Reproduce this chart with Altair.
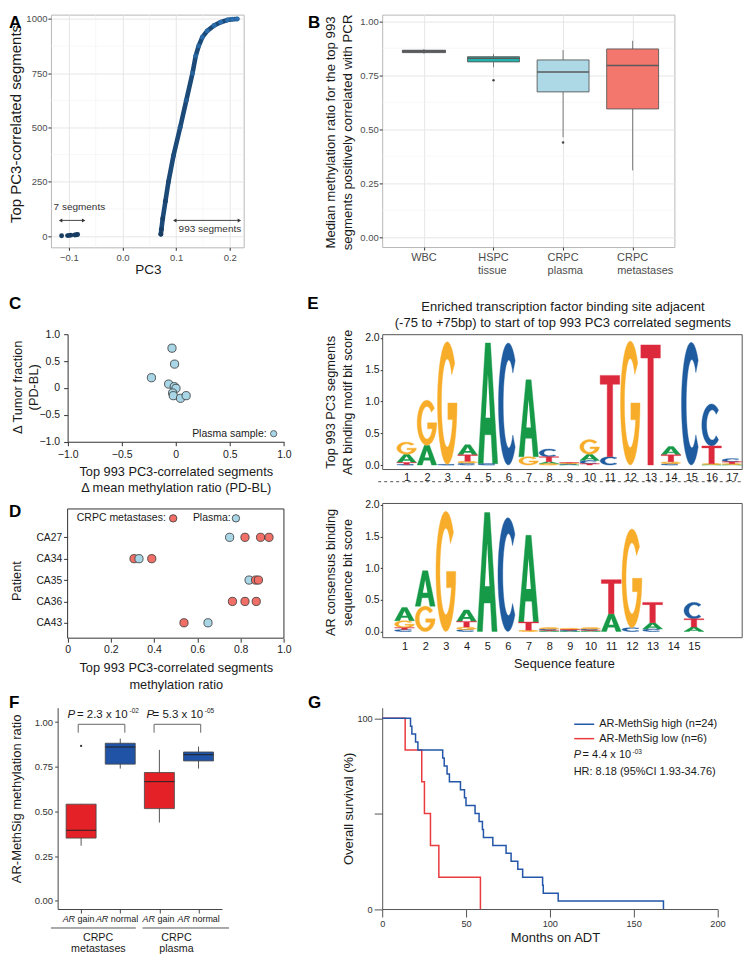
import altair as alt
import numpy as np
import pandas as pd

alt.data_transformers.disable_max_rows()

FONT = "Liberation Sans"
INK = "#1a1a1a"
GREY_TXT = "#4d4d4d"

# ===================== DATA =====================
# Panel A
a_neg_pc3 = [-0.1136, -0.1025, -0.0994, -0.0963, -0.0888, -0.0857, -0.0838]
a_neg_rank = [1, 2, 3, 4, 5, 6, 7]
a_pc3 = [0.0715, 0.0725, 0.0750, 0.0800, 0.0857, 0.0950, 0.1075, 0.1190, 0.1305,
         0.1366, 0.1420, 0.1490, 0.1580, 0.1710, 0.1830, 0.1957, 0.2050, 0.2140]
a_rank = [8, 30, 80, 160, 250, 370, 500, 625, 750, 830, 875, 916, 945, 970, 985, 995, 999, 1000]
a_x_ticks = [-0.1, 0.0, 0.1, 0.2]
a_y_ticks = [0, 250, 500, 750, 1000]
a_x_minor = [-0.05, 0.05, 0.15]
a_y_minor = [125, 375, 625, 875]
a_arrow_from = [-0.1155, 0.0975]
a_arrow_to = [-0.0725, 0.218]
a_arrow_y = [72, 72]

# Panel B
b_line1 = ["WBC", "HSPC", "CRPC", "CRPC"]
b_line2 = ["", "tissue", "plasma", "metastases"]
b_lo = [0.850, 0.787, 0.463, 0.309]
b_q1 = [0.855, 0.812, 0.673, 0.594]
b_med = [0.860, 0.829, 0.765, 0.795]
b_q3 = [0.866, 0.836, 0.821, 0.872]
b_hi = [0.871, 0.849, 0.867, 0.910]
b_out_i = [1, 2]
b_out_v = [0.727, 0.438]
b_y_ticks = [0, 0.25, 0.5, 0.75, 1.0]
b_y_minor = [0.125, 0.375, 0.625, 0.875]

# Panel C
c_dmeth = [-0.035, -0.011, -0.225, -0.066, -0.014, 0.002, -0.029, -0.023, 0.044, 0.096]
c_dtf = [0.740, 0.444, 0.191, 0.073, 0.024, -0.007, -0.093, -0.143, -0.192, -0.143]

# Panel D
d_patients = ["CA27", "CA34", "CA35", "CA36", "CA43"]
d_met_pat = ["CA27", "CA27", "CA27", "CA34", "CA34", "CA35", "CA35", "CA36", "CA36", "CA36", "CA43"]
d_met_val = [0.820, 0.892, 0.931, 0.307, 0.389, 0.869, 0.882, 0.762, 0.820, 0.872, 0.538]
d_pla_pat = ["CA27", "CA34", "CA35", "CA43"]
d_pla_val = [0.749, 0.330, 0.839, 0.649]

# Panel E (bit heights per position, for A, C, G, T)
e1_A = [0.13, 0.31, 0.00, 0.16, 1.90, 0.00, 1.21, 0.03, 0.01, 0.10, 0.00, 0.00, 0.00, 0.13, 0.00, 0.01, 0.01]
e1_C = [0.01, 0.00, 0.01, 0.03, 0.02, 1.92, 0.00, 0.12, 0.01, 0.05, 0.13, 0.00, 0.00, 0.02, 1.93, 0.66, 0.05]
e1_G = [0.19, 0.71, 1.93, 0.03, 0.00, 0.00, 0.13, 0.02, 0.01, 0.23, 0.00, 1.95, 0.00, 0.03, 0.00, 0.01, 0.01]
e1_T = [0.03, 0.00, 0.00, 0.10, 0.00, 0.00, 0.00, 0.08, 0.01, 0.02, 1.28, 0.00, 1.89, 0.11, 0.00, 0.28, 0.03]
e2_A = [0.21, 0.56, 0.00, 0.18, 1.88, 0.00, 1.37, 0.01, 0.01, 0.01, 0.28, 0.00, 0.10, 0.00, 0.07]
e2_C = [0.03, 0.00, 0.00, 0.03, 0.00, 1.80, 0.00, 0.02, 0.01, 0.02, 0.00, 0.06, 0.04, 0.00, 0.26]
e2_G = [0.11, 0.40, 1.90, 0.04, 0.00, 0.00, 0.02, 0.02, 0.02, 0.02, 0.00, 1.56, 0.00, 0.00, 0.00]
e2_T = [0.03, 0.00, 0.00, 0.09, 0.00, 0.00, 0.13, 0.01, 0.01, 0.01, 0.54, 0.00, 0.32, 0.00, 0.13]

# Panel F
f_lo = [0.308, 0.740, 0.438, 0.740]
f_q1 = [0.351, 0.765, 0.516, 0.783]
f_med = [0.395, 0.861, 0.667, 0.818]
f_q3 = [0.541, 0.882, 0.718, 0.833]
f_hi = [0.541, 0.908, 0.845, 0.863]
f_out_i = [0]
f_out_v = [0.867]
f_brk_from = [-0.074, 1.864]
f_brk_to = [1.117, 3.056]
f_brk_top = [0.988, 0.988]
f_brk_leg = [0.941, 0.941]
f_lab_group = ["gain", "normal", "gain", "normal"]

# Panel G (Kaplan-Meier steps)
g_hi_t = [0, 16.9, 17.7, 19.9, 21.3, 36.1, 37.0, 38.7, 40.1, 46.7, 49.1, 50.0, 55.4,
          57.8, 59.8, 60.4, 66.0, 73.9, 76.9, 80.9, 83.8, 95.7, 96.1, 105.0, 167.8]
g_hi_s = [100, 95.8, 91.7, 87.5, 83.3, 79.2, 75.0, 70.8, 66.7, 62.5, 58.3, 54.2, 50.0,
          45.8, 41.7, 37.5, 33.3, 29.2, 25.0, 20.8, 16.7, 12.5, 8.3, 4.2, 0.0]
g_lo_t = [0, 13.7, 23.6, 25.2, 28.8, 33.8, 58.6]
g_lo_s = [100, 83.3, 66.7, 50.0, 33.3, 16.7, 0.0]


# ===================== HELPERS =====================
def one():
    return pd.DataFrame({"d": [0]})


def ptext(text, x, y, size=11.0, align="left", baseline="middle", weight="normal",
          style="normal", color=INK):
    return alt.Chart(pd.DataFrame({"t": [text]})).mark_text(
        align=align, baseline=baseline, fontSize=size, fontWeight=weight,
        fontStyle=style, color=color, font=FONT
    ).encode(x=alt.value(x), y=alt.value(y), text="t:N")


def letter(ch, x, y):
    return ptext(ch, x, y, size=17, baseline="top", weight="bold", color="#000")


def prule(x, x2, y, y2, color="#555", width=1.0, dash=None):
    kw = dict(color=color, strokeWidth=width)
    if dash:
        kw["strokeDash"] = dash
    return alt.Chart(one()).mark_rule(**kw).encode(
        x=alt.value(x), x2=alt.value(x2), y=alt.value(y), y2=alt.value(y2))


def sp(h):
    return alt.Chart(one()).mark_point(opacity=0).properties(width=1, height=h)


def enc_pair(xs, xaxis, ys, yaxis):
    X = lambda f: alt.X(f, scale=xs, axis=xaxis)
    Y = lambda f: alt.Y(f, scale=ys, axis=yaxis)
    return X, Y


TITLE = dict(titleFontWeight="normal", titleColor=INK, titleFont=FONT,
             titleBaseline="alphabetic", titleAlign="center")

# ===================== PANEL A =====================
AW, AH = 193, 233
a_xs = alt.Scale(domain=[-0.1335, 0.226], nice=False, zero=False)
a_ys = alt.Scale(domain=[-52, 1020], nice=False, zero=False)
a_xaxis = alt.Axis(values=a_x_ticks, format=".1f", grid=True, gridColor="#e6e6e6", domain=False,
                   tickColor="#333", tickSize=3, labelFontSize=9.5, labelColor=GREY_TXT,
                   labelPadding=2, labelFlush=False, title="PC3", titleFontSize=13.5,
                   titleX=97, titleY=26, titleAngle=0, **TITLE)
a_yaxis = alt.Axis(values=a_y_ticks, format="d", grid=True, gridColor="#e6e6e6", domain=False,
                   tickColor="#333", tickSize=3, labelFontSize=9.5, labelColor=GREY_TXT,
                   labelPadding=1, labelFlush=False, title="Top PC3-correlated segments",
                   titleFontSize=15, titleX=-30, titleY=109, titleAngle=270, **TITLE)
AX, AY = enc_pair(a_xs, a_xaxis, a_ys, a_yaxis)

a_curve = pd.DataFrame({"pc3": a_pc3, "rank": a_rank})
a_all = pd.DataFrame({"pc3": a_neg_pc3 + a_pc3, "rank": a_neg_rank + a_rank})
a_arr = pd.DataFrame({"x1": a_arrow_from, "x2": a_arrow_to, "y": a_arrow_y})

a_layers = [
    alt.Chart(pd.DataFrame({"pc3": a_x_minor})).mark_rule(color="#f2f2f2", strokeWidth=0.6)
    .encode(x=AX("pc3:Q")),
    alt.Chart(pd.DataFrame({"rank": a_y_minor})).mark_rule(color="#f2f2f2", strokeWidth=0.6)
    .encode(y=AY("rank:Q")),
    alt.Chart(a_curve).mark_line(color="#1c4a78", strokeWidth=4.6, strokeCap="round")
    .encode(x=AX("pc3:Q"), y=AY("rank:Q")),
    alt.Chart(a_all).mark_circle(size=24, opacity=1)
    .encode(x=AX("pc3:Q"), y=AY("rank:Q"),
            color=alt.Color("rank:Q", scale=alt.Scale(domain=[0, 1000], range=["#173c61", "#2c6fae"]),
                            legend=None)),
    alt.Chart(a_arr).mark_rule(color="#333", strokeWidth=0.9)
    .encode(x=AX("x1:Q"), x2="x2:Q", y=AY("y:Q")),
    alt.Chart(a_arr).mark_point(shape="triangle-left", filled=True, size=16, color="#333", opacity=1)
    .encode(x=AX("x1:Q"), y=AY("y:Q")),
    alt.Chart(a_arr).mark_point(shape="triangle-right", filled=True, size=16, color="#333", opacity=1)
    .encode(x=AX("x2:Q"), y=AY("y:Q")),
    alt.Chart(pd.DataFrame({"x": [-0.1285], "y": [133], "t": ["7 segments"]}))
    .mark_text(align="left", baseline="middle", fontSize=10, color="#333", font=FONT)
    .encode(x=AX("x:Q"), y=AY("y:Q"), text="t:N"),
    alt.Chart(pd.DataFrame({"x": [0.163], "y": [31], "t": ["993 segments"]}))
    .mark_text(align="center", baseline="middle", fontSize=10, color="#333", font=FONT)
    .encode(x=AX("x:Q"), y=AY("y:Q"), text="t:N"),
    letter("A", -42, 0),
]
panel_a = alt.layer(*a_layers).properties(width=AW, height=AH,
                                          view=alt.ViewBackground(stroke="#b8b8b8", strokeWidth=1))

# ===================== PANEL B =====================
BW, BH = 292.6, 232.7
b_xs = alt.Scale(domain=[-0.6, 3.6], nice=False, zero=False)
b_ys = alt.Scale(domain=[-0.046, 1.031], nice=False, zero=False)
b_halfwidth = [0.31, 0.373, 0.373, 0.373]
b_fill = ["#22344f", "#22b3ad", "#add8e6", "#f4776e"]
b_df = pd.DataFrame({"i": [0, 1, 2, 3], "lo": b_lo, "q1": b_q1, "med": b_med, "q3": b_q3, "hi": b_hi,
                     "fill": b_fill, "l1": b_line1, "l2": b_line2})
b_df["xl"] = b_df["i"] - np.array(b_halfwidth)
b_df["xr"] = b_df["i"] + np.array(b_halfwidth)

b_xaxis = alt.Axis(values=[0, 1, 2, 3], labels=False, grid=True, gridColor="#e6e6e6", domain=False,
                   tickColor="#333", tickSize=3, title=None)
b_yaxis = alt.Axis(values=b_y_ticks, format=".2f", grid=True, gridColor="#e6e6e6", domain=False,
                   tickColor="#333", tickSize=3, labelFontSize=9.5, labelColor=GREY_TXT,
                   labelPadding=1, labelFlush=False,
                   title=["Median methylation ratio for the top 993",
                          "segments positively correlated with PCR"],
                   titleFontSize=13.2, titleLineHeight=16.7, titleX=-47.6, titleY=117.5,
                   titleAngle=270, **TITLE)
BX, BY = enc_pair(b_xs, b_xaxis, b_ys, b_yaxis)
b_layers = [
    alt.Chart(pd.DataFrame({"w": b_y_minor})).mark_rule(color="#f2f2f2", strokeWidth=0.6)
    .encode(y=BY("w:Q")),
    alt.Chart(b_df).mark_rule(color="#7a7a7a", strokeWidth=1)
    .encode(x=BX("i:Q"), y=BY("lo:Q"), y2="hi:Q"),
    alt.Chart(b_df).mark_rect(stroke="#5a5a5a", strokeWidth=0.9)
    .encode(x=BX("xl:Q"), x2="xr:Q", y=BY("q1:Q"), y2="q3:Q", fill=alt.Fill("fill:N", scale=None)),
    alt.Chart(b_df).mark_rule(color="#5a5a5a", strokeWidth=1.4)
    .encode(x=BX("xl:Q"), x2="xr:Q", y=BY("med:Q")),
    alt.Chart(pd.DataFrame({"i": b_out_i, "v": b_out_v})).mark_circle(size=6, color="#444", opacity=1)
    .encode(x=BX("i:Q"), y=BY("v:Q")),
    alt.Chart(b_df).mark_text(align="center", baseline="middle", fontSize=11, color=GREY_TXT, font=FONT)
    .encode(x=BX("i:Q"), y=alt.value(BH + 11.3), text="l1:N"),
    alt.Chart(b_df).mark_text(align="left", baseline="middle", fontSize=11, color=GREY_TXT, font=FONT, dx=-15.5)
    .encode(x=BX("i:Q"), y=alt.value(BH + 23.8), text="l2:N"),
    letter("B", -74.3, 0),
]
panel_b = alt.layer(*b_layers).properties(width=BW, height=BH,
                                          view=alt.ViewBackground(stroke="#b8b8b8", strokeWidth=1))

# ===================== PANEL C =====================
CX0 = 16.7
CW, CH = 216.6, 107.7
RED_PT, BLUE_PT = "#f07068", "#a9d6e6"
c_xs = alt.Scale(domain=[-1, 1], nice=False, zero=False, range=[CX0, CX0 + CW])
c_ys = alt.Scale(domain=[-1, 1], nice=False, zero=False)
zero_lbl = "datum.value == 0 ? '0' : format(datum.value, '.1f')"
c_xaxis = alt.Axis(values=[-1, -0.5, 0, 0.5, 1], labelExpr=zero_lbl, grid=False, domainColor="#333",
                   tickColor="#333", tickSize=4, labelFontSize=10.5, labelColor=INK, labelPadding=4,
                   labelFlush=False,
                   title=["Top 993 PC3-correlated segments", "Δ mean methylation ratio (PD-BL)"],
                   titleFontSize=12.8, titleLineHeight=16.7, titleX=CX0 + 108.3, titleY=33.5,
                   titleAngle=0, **TITLE)
c_yaxis = alt.Axis(values=[-1, -0.5, 0, 0.5, 1], labelExpr=zero_lbl, grid=False, domainColor="#333",
                   tickColor="#333", tickSize=4, labelFontSize=10.5, labelColor=INK, labelPadding=4,
                   labelFlush=False, offset=-CX0, title=["Δ Tumor fraction", "(PD-BL)"],
                   titleFontSize=12.8, titleLineHeight=16, titleX=-46, titleY=52.7, titleAngle=270, **TITLE)
CXe, CYe = enc_pair(c_xs, c_xaxis, c_ys, c_yaxis)
c_df = pd.DataFrame({"x": c_dmeth, "y": c_dtf})
c_layers = [
    alt.Chart(c_df).mark_circle(size=68, color=BLUE_PT, opacity=1, stroke="#333", strokeWidth=0.8)
    .encode(x=CXe("x:Q"), y=CYe("y:Q")),
    alt.Chart(pd.DataFrame({"x": [0.84], "y": [-0.85], "t": ["Plasma sample:"]}))
    .mark_text(align="right", baseline="middle", fontSize=10.5, color=INK, font=FONT)
    .encode(x=CXe("x:Q"), y=CYe("y:Q"), text="t:N"),
    alt.Chart(pd.DataFrame({"x": [0.905], "y": [-0.85]}))
    .mark_circle(size=40, color=BLUE_PT, opacity=1, stroke="#333", strokeWidth=0.7)
    .encode(x=CXe("x:Q"), y=CYe("y:Q")),
    letter("C", -42, -37.9),
]
panel_c = alt.layer(*c_layers).properties(width=CX0 + CW, height=CH)

# ===================== PANEL D =====================
DX0, DY0 = 16.7, 6.0
DW, DH = 216.6, 129.4
d_xs = alt.Scale(domain=[0, 1], nice=False, zero=False, range=[DX0, DX0 + DW])
d_ys = alt.Scale(domain=[-0.327, 5.72], nice=False, zero=False, range=[DY0, DY0 + DH])
d_rows = []
for p, v in zip(d_met_pat, d_met_val):
    d_rows.append({"row": d_patients.index(p) + 1, "v": v, "kind": "met"})
for p, v in zip(d_pla_pat, d_pla_val):
    d_rows.append({"row": d_patients.index(p) + 1, "v": v, "kind": "pla"})
d_df = pd.DataFrame(d_rows).sort_values(["row", "v"]).reset_index(drop=True)
d_lbl = "[" + ",".join(["''"] + ["'%s'" % p for p in d_patients]) + "][datum.value]"
d_xaxis = alt.Axis(values=[0, 0.2, 0.4, 0.6, 0.8, 1.0], labelExpr=zero_lbl, grid=False, domain=False,
                   tickColor="#333", tickSize=4, labelFontSize=10.5, labelColor=INK, labelPadding=2,
                   labelFlush=False, title=["Top 993 PC3-correlated segments", "methylation ratio"],
                   titleFontSize=12.8, titleLineHeight=16.6, titleX=DX0 + 108.3, titleY=33.3,
                   titleAngle=0, **TITLE)
d_yaxis = alt.Axis(values=[1, 2, 3, 4, 5], labelExpr=d_lbl, grid=False, domain=False, tickColor="#333",
                   tickSize=4, labelFontSize=10.3, labelColor=INK, labelPadding=2, labelFlush=False,
                   offset=-DX0, title="Patient", titleFontSize=12.8, titleX=-46.7, titleY=DY0 + 71.7,
                   titleAngle=270, **TITLE)
DXe, DYe = enc_pair(d_xs, d_xaxis, d_ys, d_yaxis)
d_color = alt.Scale(domain=["met", "pla"], range=[RED_PT, BLUE_PT])
d_leg = pd.DataFrame({"x": [0.454, 0.754], "cx": [0.488, 0.778], "y": [0.112, 0.112],
                      "t": ["CRPC metastases:", "Plasma:"], "kind": ["met", "pla"]})
d_layers = [
    alt.Chart(d_df).mark_circle(size=68, opacity=1, stroke="#333", strokeWidth=0.8)
    .encode(x=DXe("v:Q"), y=DYe("row:Q"), color=alt.Color("kind:N", scale=d_color, legend=None)),
    alt.Chart(d_leg).mark_text(align="right", baseline="middle", fontSize=10.5, color=INK, font=FONT)
    .encode(x=DXe("x:Q"), y=DYe("y:Q"), text="t:N"),
    alt.Chart(d_leg).mark_circle(size=55, opacity=1, stroke="#333", strokeWidth=0.8)
    .encode(x=DXe("cx:Q"), y=DYe("y:Q"), color=alt.Color("kind:N", scale=d_color, legend=None)),
    alt.Chart(one()).mark_rect(fillOpacity=0, stroke="#333", strokeWidth=1)
    .encode(x=alt.value(DX0), x2=alt.value(DX0 + DW), y=alt.value(DY0), y2=alt.value(DY0 + DH)),
    letter("D", -42, 1.4),
]
panel_d = alt.layer(*d_layers).properties(width=DX0 + DW, height=DY0 + DH)

# ===================== PANEL E =====================
def ell(cx, cy, rx, ry, a0, a1, n):
    ang = np.radians(np.linspace(a0, a1, n))
    return list(zip(cx + rx * np.cos(ang), cy + ry * np.sin(ang)))


GLYPHS = {
    "A": [("fill", [(0, 0), (0.37, 1), (0.63, 1), (1, 0), (0.74, 0), (0.665, 0.24), (0.335, 0.24), (0.26, 0)]),
          ("hole", [(0.385, 0.38), (0.5, 0.74), (0.615, 0.38)])],
    "T": [("fill", [(0, 1), (1, 1), (1, 0.89), (0.64, 0.89), (0.64, 0), (0.36, 0), (0.36, 0.89), (0, 0.89)])],
    "C": [("fill", ell(0.5, 0.5, 0.5, 0.5, 45, 315, 30) + ell(0.53, 0.5, 0.29, 0.36, 315, 45, 30))],
    "G": [("fill", ell(0.5, 0.5, 0.5, 0.5, 40, 360, 32) + [(0.53, 0.5), (0.53, 0.365)]
           + ell(0.5, 0.5, 0.3, 0.36, 338, 40, 30))],
}
LCOL = {"A": "#179a48", "C": "#1f5c9f", "G": "#f8ad2a", "T": "#dc2a3c"}


def logo_df(hA, hC, hG, hT):
    heights = {"A": hA, "C": hC, "G": hG, "T": hT}
    rows = []
    for p in range(len(hA)):
        col = sorted([(heights[L][p], L) for L in "ACGT" if heights[L][p] > 0.004])
        base = 0.0
        for h, L in col:
            for k, (kind, poly) in enumerate(GLYPHS[L]):
                gid = "%d-%s-%d" % (p, L, k)
                for j, (gx, gy) in enumerate(poly):
                    rows.append({"gid": gid, "letter": L, "kind": kind, "pi": j,
                                 "x": p + 1 - 0.48 + 0.96 * gx, "y": base + h * gy})
            base += h
    return pd.DataFrame(rows)


def logo_layers(df, xs, ys, xaxis, yaxis):
    X, Y = enc_pair(xs, xaxis, ys, yaxis)
    layers = []
    for L in "ACGT":
        layers.append(
            alt.Chart(df).transform_filter("datum.letter == '%s' && datum.kind == 'fill'" % L)
            .mark_line(interpolate="linear-closed", fill=LCOL[L], stroke=LCOL[L], strokeWidth=0.4)
            .encode(x=X("x:Q"), y=Y("y:Q"), detail="gid:N", order="pi:Q"))
    layers.append(
        alt.Chart(df).transform_filter("datum.kind == 'hole'")
        .mark_line(interpolate="linear-closed", fill="white", stroke="white", strokeWidth=0)
        .encode(x=X("x:Q"), y=Y("y:Q"), detail="gid:N", order="pi:Q"))
    return layers


EW, EH1, EH2 = 360, 135, 134.4
e1_xs = alt.Scale(domain=[-0.2, 17.48], nice=False, zero=False)
e1_ys = alt.Scale(domain=[-0.063, 2.058], nice=False, zero=False)
e2_xs = alt.Scale(domain=[-0.08, 17.31], nice=False, zero=False)
e2_ys = alt.Scale(domain=[-0.09, 2.032], nice=False, zero=False)
e_y_ticks = [0, 0.5, 1.0, 1.5, 2.0]
e1_xaxis = alt.Axis(values=list(range(1, 18)), format="d", grid=False, domain=False, ticks=False,
                    labelFontSize=11, labelColor=INK, labelPadding=2.5, labelFlush=False, title=None)
e1_yaxis = alt.Axis(values=e_y_ticks, format=".1f", grid=False, domain=False, tickColor="#333", tickSize=2,
                    labelFontSize=10.5, labelColor=INK, labelPadding=1, labelFlush=False,
                    title=["Top 993 PC3 segments", "AR binding motif bit score"], titleFontSize=12.8,
                    titleLineHeight=16.5, titleX=-47.5, titleY=67.7, titleAngle=270, **TITLE)
e2_xaxis = alt.Axis(values=list(range(1, 16)), format="d", grid=False, domain=False, ticks=False,
                    labelFontSize=11, labelColor=INK, labelPadding=3.5, labelFlush=False,
                    title="Sequence feature", titleFontSize=12.8, titleX=182, titleY=30.3, titleAngle=0, **TITLE)
e2_yaxis = alt.Axis(values=e_y_ticks, format=".1f", grid=False, domain=False, tickColor="#333", tickSize=2,
                    labelFontSize=10.5, labelColor=INK, labelPadding=1, labelFlush=False,
                    title=["AR consensus binding", "sequence bit score"], titleFontSize=12.8,
                    titleLineHeight=16.5, titleX=-47.5, titleY=69, titleAngle=270, **TITLE)

e1_layers = logo_layers(logo_df(e1_A, e1_C, e1_G, e1_T), e1_xs, e1_ys, e1_xaxis, e1_yaxis) + [
    ptext("Enriched transcription factor binding site adjacent", 181, -27.3, size=13, align="center"),
    ptext("(-75 to +75bp) to start of  top 993 PC3 correlated segments", 181, -11.6, size=13, align="center"),
    prule(-4, EW, EH1 + 12.7, EH1 + 12.7, color="#555", width=1, dash=[3, 3]),
    letter("E", -75, -37.9),
]
panel_e1 = alt.layer(*e1_layers).properties(width=EW, height=EH1,
                                            view=alt.ViewBackground(stroke="#555", strokeWidth=1))
e2_layers = logo_layers(logo_df(e2_A, e2_C, e2_G, e2_T), e2_xs, e2_ys, e2_xaxis, e2_yaxis)
panel_e2 = alt.layer(*e2_layers).properties(width=EW, height=EH2,
                                            view=alt.ViewBackground(stroke="#555", strokeWidth=1))

# ===================== PANEL F =====================
FX0 = 6.7
FW, FH = 164.6, 201.6
f_xs = alt.Scale(domain=[-0.6, 3.6], nice=False, zero=False, range=[FX0, FX0 + FW])
f_ys = alt.Scale(domain=[-0.046, 1.081], nice=False, zero=False)
f_fill = ["#e52128", "#2053a5", "#e52128", "#2053a5"]
f_halfwidth = 0.383
f_label_dx = [-18.5, -24.4, -16.9, -21.1]   # left edge of each "AR ..." label relative to its box
f_df = pd.DataFrame({"i": [0, 1, 2, 3], "lo": f_lo, "q1": f_q1, "med": f_med, "q3": f_q3, "hi": f_hi,
                     "fill": f_fill})
f_df["xl"] = f_df["i"] - f_halfwidth
f_df["xr"] = f_df["i"] + f_halfwidth
f_brk = pd.DataFrame({"x1": f_brk_from, "x2": f_brk_to, "top": f_brk_top, "leg": f_brk_leg})
f_xaxis = alt.Axis(values=[0, 1, 2, 3], labels=False, grid=False, domainColor="#444", tickColor="#444",
                   tickSize=4, title=None)
f_yaxis = alt.Axis(values=[0, 0.25, 0.5, 0.75, 1.0], format=".2f", grid=False, domainColor="#444",
                   tickColor="#444", tickSize=3, labelFontSize=9.5, labelColor="#333", labelPadding=2,
                   labelFlush=False, offset=-FX0, title="AR-MethSig methylation ratio", titleFontSize=13,
                   titleX=-36.7, titleY=90.8, titleAngle=270, **TITLE)
FXe, FYe = enc_pair(f_xs, f_xaxis, f_ys, f_yaxis)


def ftext(cat, text, dx, style="normal"):
    return alt.Chart(pd.DataFrame({"i": [cat], "t": [text]})).mark_text(
        align="left", baseline="middle", fontSize=9, color=INK, font=FONT, fontStyle=style, dx=dx
    ).encode(x=FXe("i:Q"), y=alt.value(FH + 10), text="t:N")


f_label_layers = []
for k in range(4):
    f_label_layers.append(ftext(k, "AR", f_label_dx[k], "italic"))
    f_label_layers.append(ftext(k, f_lab_group[k], f_label_dx[k] + 15.0))

f_layers = [
    alt.Chart(f_df).mark_rule(color="#555", strokeWidth=1)
    .encode(x=FXe("i:Q"), y=FYe("lo:Q"), y2="hi:Q"),
    alt.Chart(f_df).mark_rect(stroke="#444", strokeWidth=0.8)
    .encode(x=FXe("xl:Q"), x2="xr:Q", y=FYe("q1:Q"), y2="q3:Q", fill=alt.Fill("fill:N", scale=None)),
    alt.Chart(f_df).mark_rule(color="#222", strokeWidth=1)
    .encode(x=FXe("xl:Q"), x2="xr:Q", y=FYe("med:Q")),
    alt.Chart(pd.DataFrame({"i": f_out_i, "v": f_out_v})).mark_circle(size=5, color="#333", opacity=1)
    .encode(x=FXe("i:Q"), y=FYe("v:Q")),
    alt.Chart(f_brk).mark_rule(color="#666", strokeWidth=1).encode(x=FXe("x1:Q"), x2="x2:Q", y=FYe("top:Q")),
    alt.Chart(f_brk).mark_rule(color="#666", strokeWidth=1).encode(x=FXe("x1:Q"), y=FYe("leg:Q"), y2="top:Q"),
    alt.Chart(f_brk).mark_rule(color="#666", strokeWidth=1).encode(x=FXe("x2:Q"), y=FYe("leg:Q"), y2="top:Q"),
] + f_label_layers + [
    prule(FX0 - 6.7, FX0 + 78.3, FH + 19, FH + 19, color="#555", width=1),
    prule(FX0 + 85, FX0 + 171.6, FH + 19, FH + 19, color="#555", width=1),
    ptext("CRPC", FX0 + 40.5, FH + 29.5, size=10.7, align="center"),
    ptext("metastases", FX0 + 40.8, FH + 40.5, size=10.7, align="center"),
    ptext("CRPC", FX0 + 119, FH + 29.5, size=10.7, align="center"),
    ptext("plasma", FX0 + 119, FH + 40.5, size=10.7, align="center"),
    ptext("P", FX0 + 10, 7.3, size=11.5, style="italic"),
    ptext("= 2.3 x 10", FX0 + 19.3, 7.3, size=11.5),
    ptext("-02", FX0 + 72, 3.8, size=6.5),
    ptext("P", FX0 + 89, 7.3, size=11.5, style="italic"),
    ptext("= 5.3 x 10", FX0 + 95, 7.3, size=11.5),
    ptext("-05", FX0 + 147.3, 3.8, size=6.5),
    letter("F", -42, -13),
]
panel_f = alt.layer(*f_layers).properties(width=FX0 + FW, height=FH)

# ===================== PANEL G =====================
GW, GH = 335.7, 201.6
g_xs = alt.Scale(domain=[0, 200], nice=False, zero=False)
g_ys = alt.Scale(domain=[0, 105.5], nice=False, zero=False)
g_xaxis = alt.Axis(values=[0, 50, 100, 150, 200], grid=False, domainColor="#555", tickColor="#555",
                   tickSize=8, labelFontSize=9.2, labelColor="#333", labelPadding=3, labelFlush=False,
                   title="Months on ADT", titleFontSize=13, titleX=173, titleY=32.7, titleAngle=0, **TITLE)
g_yaxis = alt.Axis(values=[0, 50, 100], labelExpr="datum.value == 50 ? '' : datum.label", grid=False,
                   domainColor="#555", tickColor="#555", tickSize=8, labelFontSize=9.2, labelColor="#333",
                   labelPadding=2, labelFlush=False, title="Overall survival (%)", titleFontSize=13,
                   titleX=-30, titleY=100.8, titleAngle=270, **TITLE)
GXe, GYe = enc_pair(g_xs, g_xaxis, g_ys, g_yaxis)
g_lo_df = pd.DataFrame({"t": g_lo_t, "s": g_lo_s})
g_hi_df = pd.DataFrame({"t": g_hi_t, "s": g_hi_s})
G_BLUE, G_RED = "#2356a8", "#ea3b3f"
g_layers = [
    alt.Chart(g_lo_df).mark_line(interpolate="step-after", color=G_RED, strokeWidth=1.5)
    .encode(x=GXe("t:Q"), y=GYe("s:Q")),
    alt.Chart(g_hi_df).mark_line(interpolate="step-after", color=G_BLUE, strokeWidth=1.5)
    .encode(x=GXe("t:Q"), y=GYe("s:Q")),
    prule(192.3, 212.3, 16.6, 16.6, color=G_BLUE, width=1.5),
    prule(192.3, 212.3, 31, 31, color=G_RED, width=1.5),
    ptext("AR-MethSig high (n=24)", 217.3, 16.6, size=11),
    ptext("AR-MethSig low (n=6)", 217.3, 31, size=11),
    ptext("P", 191.7, 47.6, size=11, style="italic"),
    ptext("= 4.4 x 10", 200.7, 47.6, size=11),
    ptext("-03", 250.7, 44.0, size=6.5),
    ptext("HR: 8.18 (95%CI 1.93-34.76)", 191.7, 64.3, size=11),
    letter("G", -74.3, -13),
]
panel_g = alt.layer(*g_layers).properties(width=GW, height=GH)

# ===================== LAYOUT (single-level grid, 2 columns) =====================
cells = [
    panel_a, panel_b,
    sp(86.3), sp(86.3),
    panel_c, panel_e1,
    sp(34), sp(34),
    panel_d, panel_e2,
    sp(69), sp(69),
    panel_f, panel_g,
]
chart = (alt.concat(*cells, columns=2, spacing={"row": 0, "column": 97.7}, bounds="flush", align="each")
         .properties(padding=0)
         .configure(font=FONT)
         .configure_view(stroke=None))

chart.save("out.html", embed_options={"renderer": "svg", "actions": False})
